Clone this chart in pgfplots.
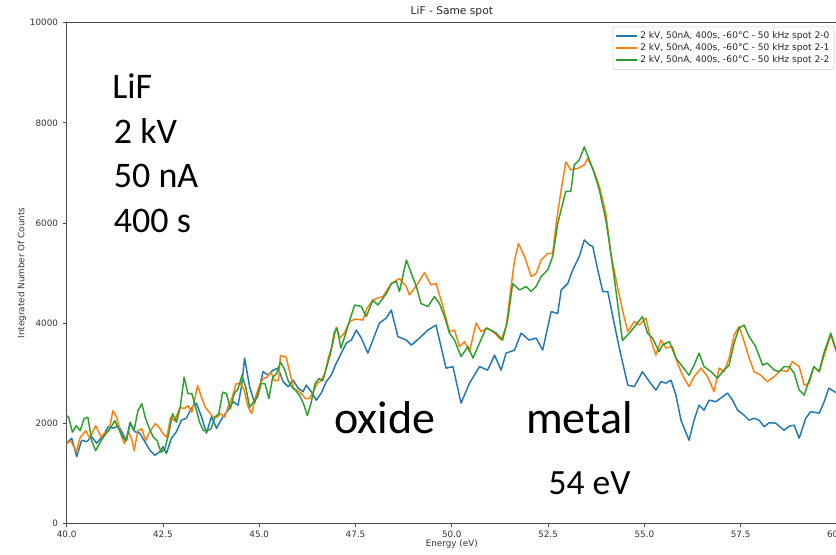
\documentclass[border=0pt]{standalone}
\usepackage{fontspec}
\setmainfont{DejaVu Sans}
\newfontfamily\carlito{Carlito}
\usepackage{pgfplots}
\pgfplotsset{compat=1.18}
\definecolor{tabblue}{HTML}{1F77B4}
\definecolor{taborange}{HTML}{FF7F0E}
\definecolor{tabgreen}{HTML}{2CA02C}
\begin{document}
\begin{tikzpicture}
\begin{axis}[
  scale only axis,
  width=577.7pt, height=375.5pt,
  xmin=40, xmax=60, ymin=0, ymax=10000,
  xtick={40,42.5,45,47.5,50,52.5,55,57.5,60},
  xticklabels={40.0,42.5,45.0,47.5,50.0,52.5,55.0,57.5,60.0},
  ytick={0,2000,4000,6000,8000,10000},
  yticklabels={0,2000,4000,6000,8000,10000},
  scaled y ticks=false, scaled x ticks=false,
  /pgf/number format/assume math mode=true,
  tick align=outside, tick pos=left,
  major tick length=3pt,
  every tick/.style={black!70, line width=0.6pt},
  axis line style={black!70, line width=0.6pt},
  ticklabel style={font=\fontsize{6.6}{7.5}\selectfont, text=black!80},
  xticklabel style={yshift=1pt},
  title={LiF - Same spot},
  title style={font=\fontsize{8.0}{9}\selectfont, text=black!85, yshift=-5pt},
  xlabel={Energy (eV)},
  ylabel={Integrated Number Of Counts},
  xlabel style={font=\fontsize{6.6}{7.5}\selectfont, text=black!80, yshift=5pt},
  ylabel style={font=\fontsize{6.6}{7.5}\selectfont, text=black!80, yshift=-4pt},
  legend style={at={(rel axis cs:1,1)}, anchor=north east, xshift=-2pt, yshift=-3pt,
    draw=black!20, rounded corners=1.5pt, font=\fontsize{6.8}{7.8}\selectfont,
    text=black!85, row sep=-1.6pt, inner sep=1.5pt},
  legend cell align=left,
  legend image code/.code={\draw[#1, line width=1.1pt] (0pt,0pt) -- (16pt,0pt);},
]
\addplot[tabblue, line width=1.1pt, line join=round] coordinates {
(40.00,1600)(40.13,1700)(40.26,1330)(40.39,1660)(40.52,1630)(40.65,1730)(40.78,1600)(40.95,1760)(41.08,1930)(41.21,1900)(41.34,1950)(41.45,1800)(41.55,1650)(41.64,2000)(41.77,1830)(41.9,1800)(42.03,1630)(42.16,1460)(42.29,1360)(42.42,1430)(42.5,1530)(42.59,1400)(42.72,1700)(42.85,1830)(42.98,2060)(43.11,2100)(43.24,2300)(43.37,2400)(43.5,2130)(43.63,1800)(43.76,2130)(43.89,1900)(44.06,2130)(44.19,2260)(44.32,2430)(44.45,2360)(44.54,2730)(44.62,3300)(44.75,2730)(44.88,2400)(45.01,2730)(45.1,3030)(45.23,2960)(45.36,3060)(45.49,3100)(45.62,2830)(45.75,2730)(45.88,2860)(46.01,2700)(46.14,2630)(46.22,2760)(46.35,2630)(46.48,2460)(46.61,2600)(46.74,2830)(46.87,2960)(47.0,3200)(47.13,3400)(47.26,3600)(47.39,3660)(47.52,3860)(47.65,3700)(47.82,3400)(47.97,3700)(48.12,4000)(48.3,4100)(48.43,4260)(48.6,3730)(48.82,3660)(48.95,3560)(49.16,3700)(49.38,3860)(49.59,3960)(49.68,3660)(49.85,3100)(50.03,3130)(50.24,2400)(50.46,2800)(50.72,3130)(50.93,3060)(51.11,3360)(51.28,3060)(51.41,3400)(51.63,3460)(51.8,3800)(52.01,3660)(52.19,3700)(52.36,3460)(52.58,4230)(52.75,4190)(52.84,4660)(53.01,4790)(53.14,5060)(53.31,5330)(53.44,5660)(53.57,5560)(53.66,5530)(53.79,5060)(53.92,4630)(54.05,4630)(54.18,4130)(54.35,3500)(54.57,2760)(54.74,2730)(54.95,3030)(55.13,2830)(55.3,2660)(55.43,2830)(55.56,2800)(55.69,2860)(55.82,2560)(55.95,2060)(56.16,1660)(56.29,2060)(56.42,2360)(56.55,2260)(56.68,2460)(56.86,2430)(56.98,2500)(57.16,2600)(57.29,2460)(57.42,2260)(57.59,2160)(57.72,2060)(57.85,2100)(57.98,2060)(58.11,1930)(58.24,2010)(58.41,2000)(58.63,1860)(58.76,1940)(58.89,1960)(59.02,1700)(59.19,2100)(59.32,2230)(59.54,2200)(59.67,2430)(59.79,2700)(60.0,2600)
};
\addlegendentry{2 kV, 50nA, 400s, -60°C - 50 kHz spot 2-0}
\addplot[taborange, line width=1.1pt, line join=round] coordinates {
(40.0,1590)(40.1,1650)(40.2,1520)(40.25,1420)(40.35,1720)(40.5,1850)(40.6,1690)(40.75,1950)(40.9,1720)(41.0,1820)(41.1,1850)(41.2,2250)(41.3,2120)(41.4,1790)(41.5,1590)(41.6,1850)(41.7,1650)(41.75,1450)(41.85,1850)(41.95,1890)(42.05,1650)(42.15,1820)(42.3,1990)(42.4,1920)(42.5,1790)(42.6,1720)(42.7,2120)(42.8,2050)(42.95,2320)(43.05,2290)(43.15,2350)(43.25,2220)(43.4,2750)(43.5,2520)(43.6,2320)(43.7,2220)(43.8,2120)(43.9,2120)(44.0,2190)(44.1,2120)(44.2,2350)(44.3,2520)(44.4,2790)(44.5,2790)(44.6,2690)(44.7,2350)(44.8,2190)(44.9,2520)(45.0,2750)(45.1,2890)(45.2,2920)(45.3,3020)(45.4,2850)(45.5,2850)(45.55,3350)(45.7,3320)(45.8,2990)(45.9,2690)(46.0,2650)(46.1,2590)(46.2,2490)(46.3,2490)(46.4,2620)(46.5,2790)(46.6,2850)(46.7,2990)(46.8,3320)(46.9,3550)(47.0,3920)(47.09,3700)(47.2,3790)(47.35,4030)(47.5,4080)(47.69,4060)(47.8,4300)(47.95,4460)(48.08,4500)(48.21,4530)(48.43,4790)(48.64,4890)(48.82,4730)(48.9,4560)(49.12,4790)(49.29,5010)(49.46,4760)(49.59,4790)(49.77,4330)(49.94,3830)(50.07,3860)(50.2,3530)(50.33,3630)(50.46,3430)(50.63,4000)(50.76,3830)(50.93,3900)(51.11,3800)(51.28,3660)(51.41,3930)(51.54,4730)(51.63,5260)(51.73,5590)(51.89,5330)(52.06,4930)(52.19,4990)(52.32,5260)(52.49,5390)(52.62,5390)(52.71,5990)(52.84,6660)(52.96,7220)(53.09,7060)(53.27,7090)(53.44,7160)(53.53,7290)(53.7,7020)(53.83,6730)(54.0,6190)(54.13,5390)(54.3,4730)(54.45,4200)(54.57,3830)(54.74,4030)(54.87,3960)(55.04,4100)(55.17,3660)(55.3,3360)(55.43,3660)(55.56,3500)(55.73,3530)(55.86,3200)(55.99,2960)(56.16,2730)(56.29,2930)(56.47,3100)(56.64,2930)(56.81,2630)(56.94,3100)(57.07,3030)(57.2,3300)(57.33,3760)(57.46,3930)(57.59,3630)(57.72,3300)(57.85,3030)(58.02,2960)(58.19,2830)(58.37,2930)(58.54,3060)(58.71,3030)(58.84,3230)(59.02,3130)(59.15,2760)(59.28,2800)(59.4,3130)(59.54,3030)(59.66,3330)(59.84,3760)(60.0,3400)
};
\addlegendentry{2 kV, 50nA, 400s, -60°C - 50 kHz spot 2-1}
\addplot[tabgreen, line width=1.1pt, line join=round] coordinates {
(40.0,2150)(40.05,2120)(40.15,1820)(40.25,1950)(40.35,1850)(40.45,2090)(40.55,2120)(40.65,1650)(40.75,1450)(40.85,1590)(40.95,1720)(41.05,1820)(41.15,1920)(41.25,2050)(41.35,1890)(41.45,1720)(41.55,1650)(41.65,2020)(41.75,1850)(41.85,2250)(41.95,2390)(42.05,2090)(42.15,1890)(42.25,1720)(42.35,1650)(42.45,1420)(42.55,1490)(42.65,1790)(42.75,2190)(42.85,2020)(42.95,2320)(43.05,2920)(43.15,2590)(43.25,2590)(43.35,2320)(43.45,2020)(43.55,1850)(43.65,1850)(43.75,1890)(43.85,2120)(43.95,2190)(44.05,2620)(44.15,2590)(44.25,2290)(44.35,2590)(44.45,2690)(44.55,2950)(44.65,2720)(44.75,2320)(44.85,2420)(44.95,2520)(45.05,2790)(45.15,2790)(45.25,2490)(45.35,2920)(45.45,2990)(45.55,3220)(45.65,3090)(45.75,2850)(45.85,2720)(45.95,2650)(46.05,2550)(46.15,2390)(46.25,2150)(46.35,2420)(46.45,2790)(46.55,2890)(46.65,2850)(46.75,3120)(46.85,3390)(46.95,3820)(47.02,3900)(47.12,3500)(47.22,3730)(47.35,4060)(47.48,4360)(47.65,4330)(47.78,4130)(47.95,4460)(48.08,4360)(48.3,4590)(48.43,4790)(48.56,4830)(48.64,4630)(48.82,5260)(48.95,4990)(49.08,4730)(49.2,4390)(49.38,4330)(49.55,4530)(49.68,4390)(49.81,4130)(49.94,3800)(50.07,3660)(50.24,3330)(50.42,3530)(50.55,3300)(50.72,3600)(50.89,3900)(51.02,3860)(51.15,3800)(51.32,3660)(51.45,4060)(51.58,4790)(51.76,4660)(51.93,4730)(52.06,4630)(52.19,4730)(52.32,4930)(52.49,5060)(52.62,5330)(52.75,5990)(52.88,6390)(52.96,6630)(53.09,6630)(53.18,7160)(53.31,7260)(53.44,7520)(53.57,7260)(53.7,6990)(53.83,6660)(54.0,6060)(54.13,5390)(54.26,4660)(54.43,3650)(54.61,3800)(54.78,3960)(54.95,4130)(55.08,3800)(55.21,3700)(55.38,3430)(55.47,3560)(55.65,3630)(55.82,3300)(55.99,3130)(56.16,2960)(56.29,3160)(56.42,3400)(56.55,3130)(56.73,3030)(56.9,2900)(57.03,3030)(57.2,3160)(57.33,3600)(57.46,3900)(57.59,3960)(57.72,3730)(57.89,3530)(58.07,3160)(58.19,3200)(58.37,3060)(58.5,3030)(58.63,3130)(58.76,3130)(58.89,3000)(59.02,2660)(59.15,2560)(59.28,2860)(59.4,3130)(59.54,3030)(59.66,3400)(59.84,3800)(60.0,3400)
};
\addlegendentry{2 kV, 50nA, 400s, -60°C - 50 kHz spot 2-2}
\node[anchor=base west, inner sep=0pt, font=\carlito\fontsize{27}{32}\selectfont] at (axis cs:41.18,8476) {LiF};
\node[anchor=base west, inner sep=0pt, font=\carlito\fontsize{27}{32}\selectfont] at (axis cs:41.22,7578) {2 kV};
\node[anchor=base west, inner sep=0pt, font=\carlito\fontsize{27}{32}\selectfont] at (axis cs:41.22,6699) {50 nA};
\node[anchor=base west, inner sep=0pt, font=\carlito\fontsize{27}{32}\selectfont] at (axis cs:41.22,5800) {400 s};
\node[anchor=base west, inner sep=0pt, font=\carlito\fontsize{34.5}{40}\selectfont] at (axis cs:46.95,1798) {oxide};
\node[anchor=base west, inner sep=0pt, font=\carlito\fontsize{34.5}{40}\selectfont] at (axis cs:51.92,1798) {metal};
\node[anchor=base west, inner sep=0pt, font=\carlito\fontsize{26.6}{32}\selectfont] at (axis cs:52.51,585) {54 eV};
\end{axis}
\pgfresetboundingbox
\path (current axis.south west) ++(-50.0pt,-23.0pt) rectangle ++(627pt,415.5pt);
\end{tikzpicture}
\end{document}
